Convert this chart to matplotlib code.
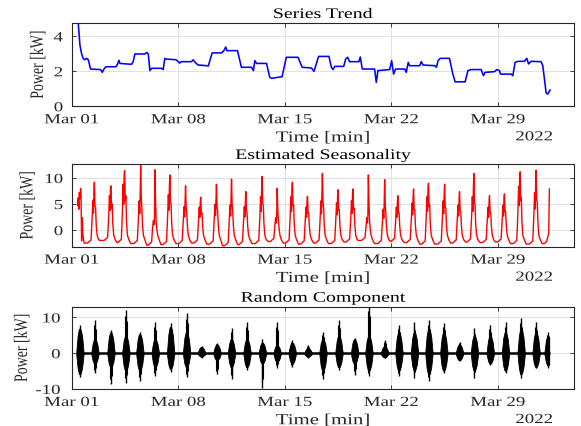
import numpy as np
import matplotlib
matplotlib.use('Agg')
import matplotlib.pyplot as plt
import matplotlib.dates as mdates
from matplotlib.patheffects import AbstractPathEffect
from matplotlib.transforms import Affine2D
from matplotlib.path import Path
from matplotlib.ticker import FixedLocator
import datetime as dt

plt.rcParams['font.family'] = ['Liberation Serif', 'DejaVu Serif']
plt.rcParams['axes.unicode_minus'] = False

# ---------------- data (days after 2022-03-01 00:00) ----------------
trend_days = [0.30, 0.43, 0.54, 0.65, 0.76, 0.87, 0.98, 1.09, 1.24, 1.90, 2.01, 2.12, 2.25, 2.91, 3.02,
              3.10, 3.17, 3.93, 4.04, 4.15, 4.81, 4.92, 5.03, 5.14, 5.25, 5.90, 6.01, 6.12, 6.23, 6.85,
              7.00, 7.10, 7.20, 7.87, 7.98, 8.15, 8.31, 8.86, 8.97, 9.23, 9.84, 10.00, 10.12, 10.20,
              10.89, 11.15, 11.81, 11.94, 12.03, 12.14, 12.80, 13.01, 13.12, 13.82, 14.10, 14.87,
              15.14, 15.75, 15.92, 16.22, 16.90, 17.06, 17.17, 17.28, 17.87, 18.00, 18.13, 18.26,
              18.87, 18.96, 19.09, 19.90, 20.01, 20.12, 20.89, 21.02, 21.15, 21.28, 21.88, 21.98,
              22.11, 22.20, 22.86, 22.97, 23.08, 23.85, 23.96, 24.07, 24.22, 24.82, 25.04, 25.19,
              25.85, 26.03, 26.25, 26.90, 27.05, 27.16, 27.78, 27.93, 28.11, 28.17, 28.87, 28.98,
              29.13, 29.31, 29.74, 29.90, 30.01, 30.18, 30.84, 30.95, 31.17, 31.28, 31.43]
trend_kw = [6.0, 4.76, 3.5, 3.0, 2.72, 2.66, 2.74, 2.66, 2.13, 2.10, 1.94, 2.13, 2.26, 2.26, 2.42,
            2.63, 2.45, 2.40, 2.55, 2.99, 2.99, 3.08, 2.99, 2.04, 2.17, 2.17, 2.10, 2.74, 2.70, 2.66,
            2.55, 2.47, 2.55, 2.55, 2.66, 2.47, 2.36, 2.32, 2.30, 3.05, 3.05, 3.18, 3.39, 3.18,
            3.18, 2.23, 2.23, 2.04, 2.61, 2.45, 2.45, 1.66, 1.60, 1.69, 2.80, 2.80,
            2.23, 2.19, 2.00, 2.85, 2.85, 2.23, 2.10, 2.28, 2.28, 2.70, 2.80, 2.55,
            2.55, 2.82, 2.13, 2.13, 1.37, 2.04, 2.10, 2.61, 1.84, 2.13, 2.13, 1.94,
            2.51, 2.32, 2.32, 2.55, 2.36, 2.32, 2.23, 2.61, 2.74, 2.74, 1.84, 1.40,
            1.40, 2.04, 2.10, 2.10, 1.75, 1.94, 1.98, 2.10, 2.04, 1.84, 1.84, 1.75,
            2.51, 2.57, 2.57, 2.74, 2.42, 2.57, 2.55, 2.32, 0.76, 0.70, 0.93]

# seasonality: first partial day, daily clusters, and final rise
seas_head_days = [0.39, 0.43, 0.47, 0.50, 0.54, 0.58, 0.61, 0.65, 0.69, 0.74, 0.81]
seas_head_kw = [4.7, 6.2, 4.0, 7.2, 6.0, 8.0, 7.6, -2.1, 2.4, -1.0, -2.5]
seas_peak_day = [1.49, 2.58, 3.48, 4.53, 5.47, 6.45, 7.48, 8.48, 9.51, 10.50, 11.44, 12.51, 13.50,
                 14.50, 15.49, 16.47, 17.50, 18.48, 19.49, 20.56, 21.43, 22.46, 23.44, 24.50, 25.48,
                 26.42, 27.45, 28.43, 29.46, 30.51]
seas_peak_kw = [9.2, 8.5, 11.4, 12.5, 11.6, 10.6, 8.5, 6.3, 8.8, 9.8, 7.4, 10.3, 8.0,
                9.2, 6.5, 10.9, 7.75, 7.9, 10.6, 9.7, 6.6, 7.9, 9.0, 8.8, 7.4,
                10.9, 6.6, 6.95, 11.2, 11.5]
seas_second_kw = [7.2, 8.3, 11.0, 7.0, 2.3, 8.5, 5.6, 5.5, 6.2, 6.0, 5.6, 8.0, 3.0,
                  8.0, 5.5, 7.0, 6.5, 7.0, 3.0, 5.0, 5.5, 6.5, 8.0, 7.0, 6.0,
                  8.0, 5.5, 6.0, 10.5, 9.0]
seas_base_kw = [-2.0, -2.4, -2.6, -2.9, -2.8, -2.6, -2.5, -2.7, -3.0, -2.8, -2.6, -2.2, -2.5,
                -2.7, -2.5, -2.6, -2.3, -2.0, -2.6, -2.2, -2.4, -2.7, -2.7, -2.5, -2.3,
                -2.4, -2.3, -2.6, -2.7, -2.6]
seas_tail_days = [31.05, 31.20, 31.30, 31.34, 31.38]
seas_tail_kw = [-2.6, -2.2, -1.0, -0.8, 7.9]

# random component: daily bursts
rand_day = [0.54, 1.53, 2.58, 3.56, 4.48, 5.49, 6.50, 7.55, 8.53, 9.55, 10.50, 11.52, 12.53, 13.50,
            14.49, 15.53, 16.51, 17.56, 18.59, 19.53, 20.56, 21.50, 22.52, 23.47, 24.45, 25.48,
            26.46, 27.50, 28.50, 29.53, 30.51, 31.30]
rand_hi = [7.8, 9.2, 6.4, 12.1, 6.0, 8.7, 8.5, 11.1, 2.0, 2.9, 7.1, 8.7, 3.9, 8.7, 3.8, 2.3, 6.0,
           9.4, 4.3, 14.0, 3.8, 7.8, 8.7, 9.2, 8.5, 3.2, 7.1, 7.8, 8.7, 9.8, 8.7, 6.0]
rand_lo = [-6.7, -5.5, -8.5, -8.3, -7.8, -6.4, -5.2, -6.7, -1.2, -5.7, -7.3, -4.6, -9.6, -4.0, -3.9,
           -1.4, -7.3, -4.6, -6.0, -6.4, -1.4, -6.4, -6.9, -7.8, -5.5, -2.1, -6.9, -3.2, -5.5, -6.9,
           -4.1, -4.0]
rand_body_hi = [7.0, 4.0, 6.0, 5.0, 5.5, 4.0, 7.5, 6.0, 1.8, 2.5, 4.0, 4.0, 3.0, 2.3, 3.0, 1.5, 4.0,
                5.0, 4.0, 5.0, 2.0, 6.0, 6.0, 7.0, 6.0, 2.5, 5.0, 5.0, 6.0, 7.0, 6.0, 5.0]
rand_body_lo = [-6.0, -3.0, -4.0, -5.0, -5.0, -4.0, -4.5, -4.0, -1.0, -2.0, -4.0, -4.0, -3.0, -2.5,
                -3.0, -1.0, -5.0, -4.0, -3.0, -5.0, -1.2, -5.0, -5.0, -6.0, -5.0, -2.0, -5.0, -3.0,
                -5.0, -6.0, -4.0, -3.5]
rand_span = [0.39, 31.40]

tick_dates = [dt.datetime(2022, 3, d) for d in (1, 8, 15, 22, 29)]
x_range = [dt.datetime(2022, 3, 1), dt.datetime(2022, 4, 3)]

# ---------------- helpers ----------------
T0 = mdates.date2num(dt.datetime(2022, 3, 1))


def tnum(days):
    return T0 + np.asarray(days, dtype=float)


class StretchX(AbstractPathEffect):
    """Widen glyphs horizontally (the reference text is horizontally stretched)."""

    def __init__(self, sx=1.36, anchor='center'):
        super().__init__()
        self.sx = sx
        self.anchor = anchor

    def draw_path(self, renderer, gc, tpath, affine, rgbFace=None):
        v = tpath.vertices
        if tpath.codes is not None:
            v = v[tpath.codes != Path.CLOSEPOLY]
        if len(v) == 0:
            return
        v = affine.transform(v)
        x0, x1 = v[:, 0].min(), v[:, 0].max()
        a = {'center': 0.5 * (x0 + x1), 'left': x0, 'right': x1}[self.anchor]
        new = affine + Affine2D().translate(-a, 0).scale(self.sx, 1.0).translate(a, 0)
        renderer.draw_path(gc, tpath, new, rgbFace)


SX = 1.36
GRAY = '#262626'

fig = plt.figure(figsize=(5.81, 4.27), dpi=100)
L, W = 71.7 / 581, (574 - 71.7) / 581
ax1 = fig.add_axes([L, 1 - 107.3 / 427, W, 83.3 / 427])
ax2 = fig.add_axes([L, 1 - 247.7 / 427, W, 82.7 / 427])
ax3 = fig.add_axes([L, 1 - 390.0 / 427, W, 82.3 / 427])

# top: trend
ax1.plot(tnum(trend_days), trend_kw, color=(0, 0, 1), lw=1.15)
ax1.set_ylim(0, 4.76)
ax1.set_yticks([0, 2, 4])

# middle: seasonality
sx_d = list(seas_head_days)
sy_v = list(seas_head_kw)
prev_b = seas_head_kw[-1]
offs = [-0.45, -0.22, -0.15, -0.10, -0.06, -0.03, 0.00, 0.04, 0.08, 0.12, 0.18, 0.28, 0.40]
for d, p, s, b in zip(seas_peak_day, seas_peak_kw, seas_second_kw, seas_base_kw):
    vals = [prev_b, prev_b + 0.6, 0.3 * s, 0.8 * s, 0.45 * s, s, p, 0.5 * p, 0.6 * s, 0.15 * s,
            -1.0, -1.9, b]
    for o, v in zip(offs, vals):
        sx_d.append(d + o)
        sy_v.append(v)
    prev_b = b
sx_d += seas_tail_days
sy_v += seas_tail_kw
ax2.plot(tnum(sx_d), sy_v, color=(1, 0, 0), lw=1.0)
ax2.set_ylim(-3.2, 12.7)
ax2.set_yticks([0, 5, 10])

# bottom: random component
ax3.plot(tnum(rand_span), [0, 0], color='k', lw=1.8, solid_capstyle='butt')
for d, hi, lo, bh, bl in zip(rand_day, rand_hi, rand_lo, rand_body_hi, rand_body_lo):
    xo = np.array([-0.24, -0.15, -0.07, 0.0, 0.07, 0.15, 0.24])
    up = np.array([0.3, 0.7 * bh, 0.95 * bh, bh, 0.9 * bh, 0.65 * bh, 0.3])
    dn = np.array([-0.3, 0.7 * bl, 0.95 * bl, bl, 0.9 * bl, 0.65 * bl, -0.3])
    xs = d + xo
    keep = xs <= rand_span[1]
    ax3.fill_between(tnum(xs[keep]), dn[keep], up[keep], color='k', lw=0.6, edgecolor='k')
    ax3.vlines(tnum([d]), [lo], [hi], color='k', lw=1.0)
    ax3.vlines(tnum([d - 0.06, d + 0.06]), [0.85 * lo, 0.75 * lo], [0.85 * hi, 0.75 * hi],
               color='k', lw=0.8)
ax3.set_ylim(-10, 13)
ax3.set_yticks([-10, 0, 10])

titles = ['Series Trend', 'Estimated Seasonality', 'Random Component']
ylab_x = [(38 - 71.7) / 502.3, (27.5 - 71.7) / 502.3, (22 - 71.7) / 502.3]
ypads = [6.3, 6.3, 8.2]

for ax, ttl, yx, yp in zip([ax1, ax2, ax3], titles, ylab_x, ypads):
    ax.set_xlim(mdates.date2num(x_range[0]), mdates.date2num(x_range[1]))
    ax.xaxis.set_major_locator(FixedLocator(mdates.date2num(tick_dates)))
    ax.xaxis.set_major_formatter(mdates.DateFormatter('%b %d'))
    ax.grid(True, color='#e2e2e2', lw=0.8)
    ax.set_axisbelow(True)
    for sp in ax.spines.values():
        sp.set_color(GRAY)
        sp.set_linewidth(0.8)
    ax.tick_params(direction='in', length=3, width=0.6, top=True, right=True,
                   labelsize=10, colors=GRAY)
    ax.tick_params(axis='x', pad=5)
    ax.tick_params(axis='y', pad=yp)
    t = ax.set_title(ttl, fontsize=10.5, pad=3.6, color='k')
    t.set_path_effects([StretchX(SX, 'center')])
    xl = ax.set_xlabel('Time [min]', fontsize=11, labelpad=3.8, color=GRAY)
    xl.set_path_effects([StretchX(SX, 'center')])
    yl = ax.set_ylabel('Power [kW]', fontsize=10, color=GRAY, va='center')
    ax.yaxis.set_label_coords(yx, 0.5)
    yl.set_path_effects([StretchX(SX, 'center')])
    for lab in ax.get_xticklabels():
        lab.set_path_effects([StretchX(SX, 'center')])
    for lab in ax.get_yticklabels():
        lab.set_path_effects([StretchX(SX, 'right')])
    yr = ax.annotate('2022', xy=(0.958, 0), xycoords='axes fraction', xytext=(0, -24.5),
                     textcoords='offset points', ha='right', va='baseline', fontsize=10,
                     color=GRAY)
    yr.set_path_effects([StretchX(SX, 'right')])

fig.savefig('out.png', dpi=100, facecolor='white')
